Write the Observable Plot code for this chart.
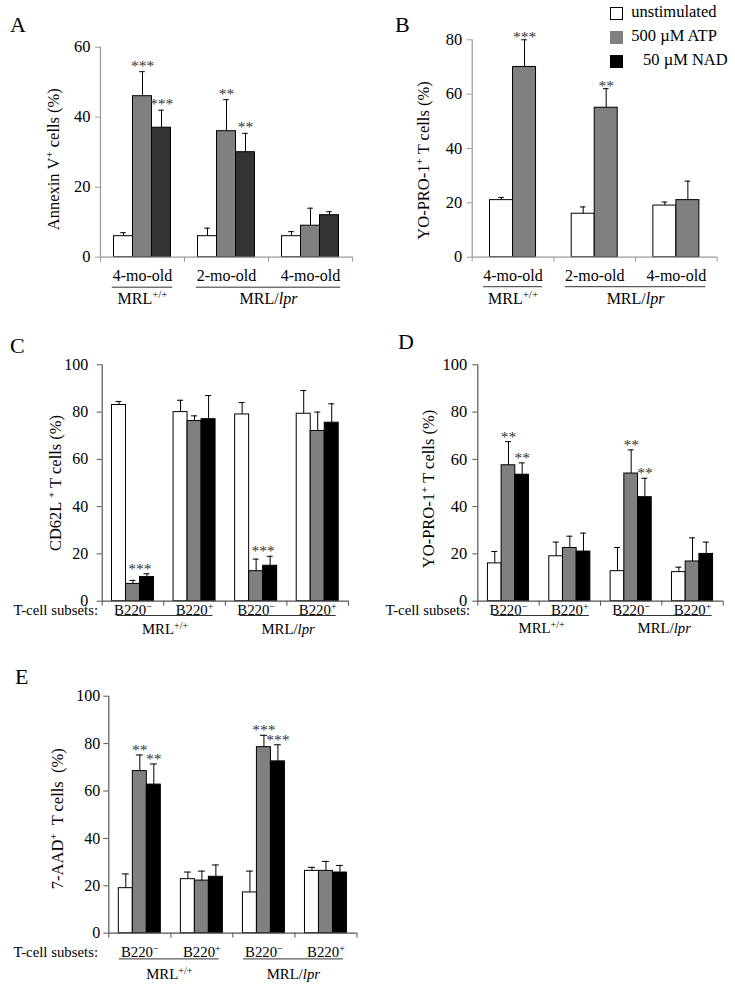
<!DOCTYPE html>
<html><head><meta charset="utf-8">
<script src="https://cdn.jsdelivr.net/npm/d3@7"></script>
<script src="https://cdn.jsdelivr.net/npm/@observablehq/plot@0.6"></script>
<style>
body{margin:0;background:#fff;}
#fig{position:relative;width:735px;height:987px;background:#fff;font-family:"Liberation Serif","Times New Roman",serif;}
.panel{position:absolute;}
.letter{position:absolute;font:22px "Liberation Serif",serif;line-height:1;color:#000;}
#legend{position:absolute;left:610px;top:2px;}
#legend, #legend *{font-family:"Liberation Serif",serif !important;font-size:16.5px !important;color:#000;}
#legend div[class*="-swatch"]{padding-bottom:2px !important;}
</style></head><body><div id="fig"></div>
<script>
// ---------- shared ----------
const treatments = ["unstimulated", "500 µM ATP", "50 µM NAD"];

// ---------- Panel A : Annexin V+ cells ----------
const groupsA = ["4-mo-old", "2-mo-old", "4-mo-old"];
const unstimA = [6, 6, 6];
const unstimA_err = [1, 2.3, 1.3];
const atpA = [46, 36, 9];
const atpA_err = [7, 9, 5];
const nadA = [37, 30, 12];
const nadA_err = [5, 5.4, 1];
const starsA = [{g: 0, t: [1], text: "***"}, {g: 0, t: [2], text: "***"}, {g: 1, t: [1], text: "**"}, {g: 1, t: [2], text: "**"}];
const ticksA = [0, 20, 40, 60];

// ---------- Panel B : YO-PRO-1+ T cells ----------
const groupsB = ["4-mo-old", "2-mo-old", "4-mo-old"];
const unstimB = [21, 16, 19];
const unstimB_err = [1, 2.5, 1.3];
const atpB = [70, 55, 21];
const atpB_err = [10, 7, 7];
const starsB = [{g: 0, t: [1], text: "***"}, {g: 1, t: [1], text: "**"}];
const ticksB = [0, 20, 40, 60, 80];

// ---------- Panel C : CD62L+ T cells ----------
const groupsCDE = ["B220^{−}", "B220^{+}", "B220^{−}", "B220^{+}"];
const unstimC = [83, 80, 79, 79.3];
const unstimC_err = [1.5, 5, 5, 9.8];
const atpC = [7.3, 76.2, 12.7, 72];
const atpC_err = [1.5, 2.2, 5.1, 8];
const nadC = [10.2, 77, 15, 75.5];
const nadC_err = [1.4, 10, 4, 8];
const starsC = [{g: 0, t: [1, 2], text: "***"}, {g: 2, t: [1, 2], text: "***"}];

// ---------- Panel D : YO-PRO-1+ T cells ----------
const unstimD = [16, 19, 12.7, 12.3];
const unstimD_err = [5, 6, 10, 2.1];
const atpD = [57.5, 22.5, 54, 16.8];
const atpD_err = [10, 5, 10, 10];
const nadD = [53.5, 21, 44, 20];
const nadD_err = [5, 7.8, 8, 5];
const starsD = [{g: 0, t: [1], text: "**"}, {g: 0, t: [2], text: "**"}, {g: 2, t: [1], text: "**"}, {g: 2, t: [2], text: "**"}];

// ---------- Panel E : 7-AAD+ T cells ----------
const unstimE = [19, 22.8, 17.2, 26.3];
const unstimE_err = [6, 3, 9, 1.5];
const atpE = [68.4, 22.2, 78.5, 26.3];
const atpE_err = [6.8, 4, 5, 4];
const nadE = [62.7, 23.8, 72.5, 25.6];
const nadE_err = [8.7, 5, 7, 3];
const starsE = [{g: 0, t: [1], text: "**"}, {g: 0, t: [2], text: "**"}, {g: 2, t: [1], text: "***"}, {g: 2, t: [2], text: "***"}];
const ticksCDE = [0, 20, 40, 60, 80, 100];

// strains (group index ranges)
const strainsAB = [{label: "MRL^{+/+}", from: 0, to: 0}, {label: "MRL/{i:lpr}", from: 1, to: 2}];
const strainsCDE = [{label: "MRL^{+/+}", from: 0, to: 1}, {label: "MRL/{i:lpr}", from: 2, to: 3}];
const subsetLabel = "T-cell subsets:";

// ---------- helpers ----------
const SVGNS = "http://www.w3.org/2000/svg";
function richify(root) {
  root.querySelectorAll("text, tspan").forEach(el => {
    if (el.children.length) return;
    const s = el.textContent;
    if (!/\^\{|\{i:/.test(s)) return;
    el.textContent = "";
    const re = /\^\{([^}]*)\}|\{i:([^}]*)\}|([^\^{]+)/g;
    let m;
    while ((m = re.exec(s))) {
      const t = document.createElementNS(SVGNS, "tspan");
      if (m[1] !== undefined) { t.textContent = m[1]; t.setAttribute("baseline-shift", "super"); t.setAttribute("font-size", "68%"); }
      else if (m[2] !== undefined) { t.textContent = m[2]; t.setAttribute("font-style", "italic"); }
      else t.textContent = m[3];
      el.appendChild(t);
    }
  });
}

function makePanel(cfg) {
  const n = cfg.groups.length, k = cfg.series.length;
  const unitPx = (cfg.width - cfg.mL - cfg.mR) / n;
  const barW = cfg.barPx / unitPx, cap = cfg.capPx / unitPx;
  const off = j => (j - (k - 1) / 2) * barW;
  const rows = [];
  cfg.groups.forEach((g, i) => cfg.series.forEach((s, j) => {
    rows.push({i, j, name: treatments[j], value: s.values[i], upper: s.values[i] + s.err[i], xc: i + off(j)});
  }));
  const starRows = cfg.stars.map(s => ({
    text: s.text,
    x: s.g + d3.mean(s.t, off),
    y: d3.max(s.t, t => rows.find(r => r.i === s.g && r.j === t).upper)
  }));
  const strains = cfg.strains.map(s => ({label: s.label, x1: s.from - cfg.ext[0], x2: s.to + cfg.ext[1]}));
  const boundaries = d3.range(n + 1).map(i => i - 0.5);
  const marks = [
    Plot.rect(rows, {x1: d => d.xc - barW / 2, x2: d => d.xc + barW / 2, y1: 0, y2: "value", fill: "name", stroke: "#000", strokeWidth: 1}),
    Plot.ruleX(rows, {x: "xc", y1: "value", y2: "upper", stroke: "#000", strokeWidth: 1}),
    Plot.ruleY(rows, {y: "upper", x1: d => d.xc - cap, x2: d => d.xc + cap, stroke: "#000", strokeWidth: 1}),
    Plot.ruleX([boundaries[0]], {stroke: cfg.axisColor, strokeWidth: 1.2}),
    Plot.ruleY([0], {stroke: cfg.axisColor, strokeWidth: 1.2}),
    Plot.axisY({ticks: cfg.yTicks, tickSize: 5, tickPadding: cfg.yPad, stroke: cfg.axisColor, fill: "#000", fontSize: cfg.tickFont, label: null}),
    Plot.axisX({ticks: boundaries, tickSize: 5, tickFormat: () => "", stroke: cfg.axisColor, label: null}),
    Plot.axisX({ticks: d3.range(n), tickSize: 0, tickPadding: cfg.labelPad, tickFormat: i => cfg.groups[i], fill: "#000", fontSize: cfg.labelFont, label: null}),
    Plot.ruleY(strains, {x1: "x1", x2: "x2", y: 0, dy: cfg.lineOff, stroke: "#333", strokeWidth: 1}),
    Plot.text(strains, {x: d => (d.x1 + d.x2) / 2, y: 0, dy: cfg.strainOff, text: "label", fill: "#000", fontSize: cfg.labelFont}),
    Plot.text(starRows, {x: "x", y: "y", text: "text", dy: cfg.starDy, fill: "#333", fontSize: 15.5}),
    Plot.text([cfg.ylabel], {text: d => d, frameAnchor: "left", textAnchor: "middle", lineAnchor: "middle", rotate: -90, dx: cfg.ylabelDx, dy: cfg.ylabelDy, fontSize: 16.5, fill: "#000"})
  ];
  if (cfg.subset) marks.push(Plot.text([subsetLabel], {text: d => d, frameAnchor: "bottom-left", textAnchor: "start", lineAnchor: "middle", dx: cfg.subset[0], dy: cfg.subset[1], fontSize: cfg.labelFont, fill: "#000"}));
  const svg = Plot.plot({
    width: cfg.width, height: cfg.height,
    marginLeft: cfg.mL, marginRight: cfg.mR, marginTop: cfg.mT, marginBottom: cfg.mB,
    x: {domain: [boundaries[0], boundaries[n]], label: null},
    y: {domain: [0, cfg.yTicks[cfg.yTicks.length - 1]], label: null},
    color: {type: "ordinal", domain: treatments, range: cfg.colors},
    style: {fontFamily: "'Liberation Serif', 'Times New Roman', serif", fontSize: "16px", color: "#000", background: "transparent", overflow: "visible"},
    marks
  });
  richify(svg);
  svg.classList.add("panel");
  svg.style.left = cfg.left + "px";
  svg.style.top = cfg.top + "px";
  svg.style.position = "absolute";
  return svg;
}

const fig = document.getElementById("fig");
const colsA = ["#ffffff", "#808080", "#333333"];
const colsCDE = ["#ffffff", "#808080", "#000000"];

fig.appendChild(makePanel({
  left: 0, top: 0, width: 367, height: 320, mL: 100, mR: 15, mT: 46.7, mB: 63.3,
  groups: groupsA, colors: colsA, yTicks: ticksA, tickFont: 16.5, labelFont: 16,
  series: [{values: unstimA, err: unstimA_err}, {values: atpA, err: atpA_err}, {values: nadA, err: nadA_err}],
  stars: starsA, strains: strainsAB, ext: [0.36, 0.36],
  barPx: 19, capPx: 2.8, yPad: 5, labelPad: 12, lineOff: 30, strainOff: 41.5, starDy: -6,
  axisColor: "#9a9a9a", ylabel: "Annexin V^{+} cells (%)", ylabelDx: -47, ylabelDy: 7
}));

fig.appendChild(makePanel({
  left: 367, top: 0, width: 368, height: 320, mL: 104.7, mR: 18.3, mT: 39.3, mB: 63.3,
  groups: groupsB, colors: colsA, yTicks: ticksB, tickFont: 16.5, labelFont: 16,
  series: [{values: unstimB, err: unstimB_err}, {values: atpB, err: atpB_err}],
  stars: starsB, strains: strainsAB, ext: [0.36, 0.36],
  barPx: 23, capPx: 2.8, yPad: 5, labelPad: 12, lineOff: 29.5, strainOff: 41.5, starDy: -3,
  axisColor: "#9a9a9a", ylabel: "YO-PRO-1^{+} T cells (%)", ylabelDx: -48.7, ylabelDy: 12
}));

fig.appendChild(makePanel({
  left: 0, top: 330, width: 367, height: 320, mL: 101.7, mR: 19, mT: 34.3, mB: 49.3,
  groups: groupsCDE, colors: colsCDE, yTicks: ticksCDE, tickFont: 16, labelFont: 14.8,
  series: [{values: unstimC, err: unstimC_err}, {values: atpC, err: atpC_err}, {values: nadC, err: nadC_err}],
  stars: starsC, strains: strainsCDE, ext: [0.26, 0.3],
  barPx: 14, capPx: 3, yPad: 9, labelPad: 3, lineOff: 14.3, strainOff: 27.7, starDy: -5,
  axisColor: "#555555", ylabel: "CD62L ^{+} T cells (%)", ylabelDx: -46.7, ylabelDy: 0,
  subset: [-88.7, 9.5]
}));

fig.appendChild(makePanel({
  left: 367, top: 330, width: 368, height: 320, mL: 110.3, mR: 12.3, mT: 34.3, mB: 49.3,
  groups: groupsCDE, colors: colsCDE, yTicks: ticksCDE, tickFont: 16.5, labelFont: 14.8,
  series: [{values: unstimD, err: unstimD_err}, {values: atpD, err: atpD_err}, {values: nadD, err: nadD_err}],
  stars: starsD, strains: strainsCDE, ext: [0.24, 0.32],
  barPx: 13.7, capPx: 3, yPad: 5.5, labelPad: 3, lineOff: 14.3, strainOff: 27, starDy: -5,
  axisColor: "#555555", ylabel: "YO-PRO-1^{+} T cells (%)", ylabelDx: -49.3, ylabelDy: 6,
  subset: [-92.3, 9.5]
}));

fig.appendChild(makePanel({
  left: 0, top: 650, width: 367, height: 337, mL: 108.3, mR: 10.5, mT: 45.7, mB: 54.3,
  groups: groupsCDE, colors: colsCDE, yTicks: ticksCDE, tickFont: 16, labelFont: 14.8,
  series: [{values: unstimE, err: unstimE_err}, {values: atpE, err: atpE_err}, {values: nadE, err: nadE_err}],
  stars: starsE, strains: strainsCDE, ext: [0.33, 0.28],
  barPx: 14, capPx: 3.5, yPad: 3.5, labelPad: 13.5, lineOff: 25.7, strainOff: 40.7, starDy: -5,
  axisColor: "#555555", ylabel: "7-AAD^{+}  T cells  (%)", ylabelDx: -51.3, ylabelDy: 4,
  subset: [-95.3, 19]
}));

// panel letters
[["A", 10, 14], ["B", 395, 14], ["C", 10, 335], ["D", 398, 331], ["E", 15, 666]].forEach(([t, x, y]) => {
  const d = document.createElement("div");
  d.className = "letter"; d.textContent = t; d.style.left = x + "px"; d.style.top = y + "px";
  fig.appendChild(d);
});

// legend
const leg = Plot.legend({color: {type: "ordinal", domain: treatments, range: ["#ffffff", "#808080", "#000000"]}, legend: "swatches", columns: 1, swatchSize: 13});
const legWrap = document.createElement("div");
legWrap.id = "legend";
legWrap.appendChild(leg);
fig.appendChild(legWrap);
const sw = leg.querySelectorAll("svg");
if (sw[0]) { const r = sw[0].querySelector("rect"); if (r) { r.setAttribute("stroke", "#000"); r.setAttribute("x", 0.5); r.setAttribute("y", 0.5); r.setAttribute("width", 12); r.setAttribute("height", 12); } }
if (sw[2]) sw[2].style.marginRight = "20px";
</script></body></html>
